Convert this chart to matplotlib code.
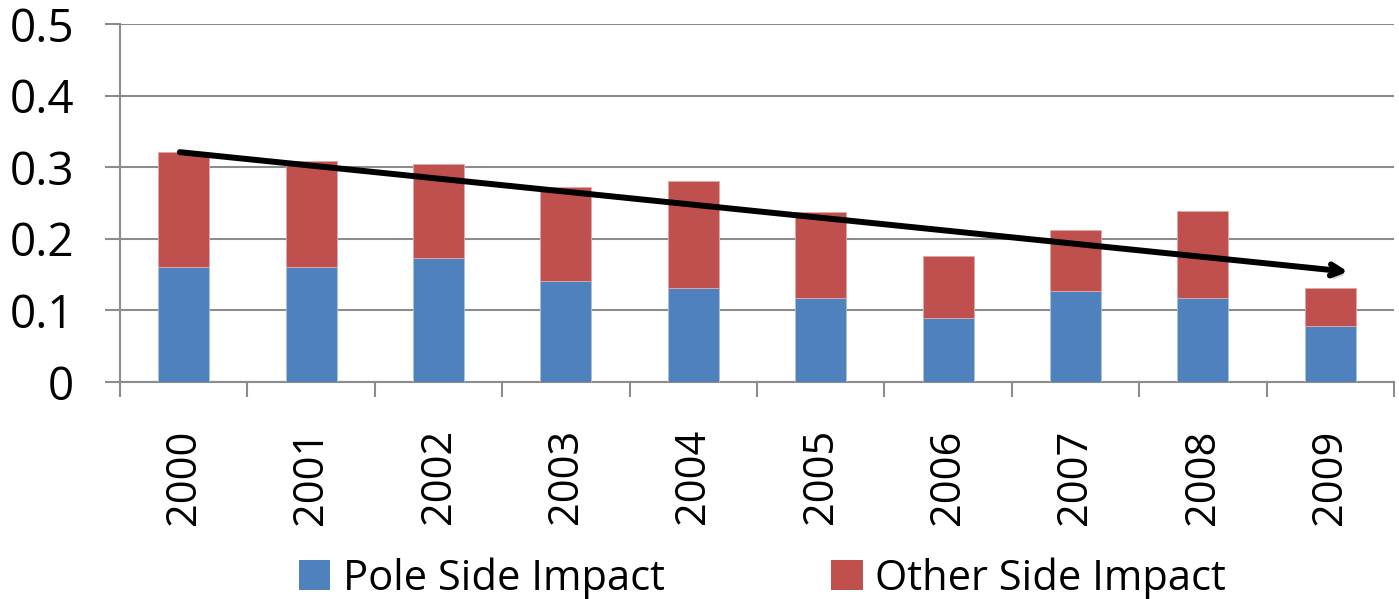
import numpy as np
import matplotlib
matplotlib.use("Agg")
import matplotlib.pyplot as plt
from matplotlib.patches import Patch
from matplotlib.ticker import FixedLocator
import matplotlib.patheffects as pe

years = ['2000', '2001', '2002', '2003', '2004', '2005', '2006', '2007', '2008', '2009']
pole = [0.160, 0.160, 0.173, 0.141, 0.131, 0.118, 0.089, 0.127, 0.118, 0.078]
other = [0.161, 0.148, 0.131, 0.131, 0.150, 0.119, 0.087, 0.085, 0.121, 0.053]

# trend arrow (start, end) in data coords
trend_x = [-0.03, 9.14]
trend_y = [0.321, 0.154]

blue = '#4F81BD'
red = '#C0504D'
grid_c = '#8c8c8c'

plt.rcParams['font.family'] = ['Open Sans', 'DejaVu Sans']

fig = plt.figure(figsize=(13.99, 5.99), dpi=100)
ax = fig.add_axes([120/1399, 1-382/599, (1394-120)/1399, (382-24)/599])

x = np.arange(len(years))
ax.bar(x, pole, width=0.4, color=blue, edgecolor='#a9c1e0', linewidth=0.6, zorder=3)
ax.bar(x, other, width=0.4, bottom=pole, color=red, edgecolor='#e0a9a8', linewidth=0.6, zorder=3)

ax.set_xlim(-0.5, len(years) - 0.5)
ax.set_ylim(0, 0.5)
ax.set_yticks([0, 0.1, 0.2, 0.3, 0.4, 0.5])
ax.set_yticklabels(['0', '0.1', '0.2', '0.3', '0.4', '0.5'])
ax.yaxis.grid(True, color=grid_c, linewidth=1.5, zorder=0)

ax.set_xticks(x)
ax.set_xticklabels(years, rotation=90)
ax.xaxis.set_minor_locator(FixedLocator(np.arange(-0.5, len(years), 1.0)))
ax.tick_params(axis='x', which='major', length=0, pad=34, labelsize=30)
ax.tick_params(axis='x', which='minor', length=11, width=1.5, color=grid_c)
ax.tick_params(axis='y', length=11, width=1.5, color=grid_c, pad=22, labelsize=33)

for s in ['top', 'right']:
    ax.spines[s].set_visible(False)
for s in ['left', 'bottom']:
    ax.spines[s].set_color(grid_c)
    ax.spines[s].set_linewidth(1.5)

ax.annotate('', xy=(trend_x[1], trend_y[1]), xytext=(trend_x[0], trend_y[0]),
            arrowprops=dict(arrowstyle='->,head_length=0.8,head_width=0.4',
                            color='black', lw=4.3, shrinkA=0, shrinkB=0,
                            path_effects=[pe.SimplePatchShadow(offset=(2, -3), alpha=0.25),
                                          pe.Normal()]),
            zorder=5)

handles = [Patch(facecolor=blue, label='Pole Side Impact'),
           Patch(facecolor=red, label='Other Side Impact')]
fig.legend(handles=handles, loc='lower center', bbox_to_anchor=(0.545, -0.022),
           borderaxespad=0.1, borderpad=0.2,
           ncol=2, frameon=False, fontsize=30, handlelength=0.75, handleheight=0.75,
           handletextpad=0.3, columnspacing=4.0)

fig.savefig('out.png', dpi=100)
